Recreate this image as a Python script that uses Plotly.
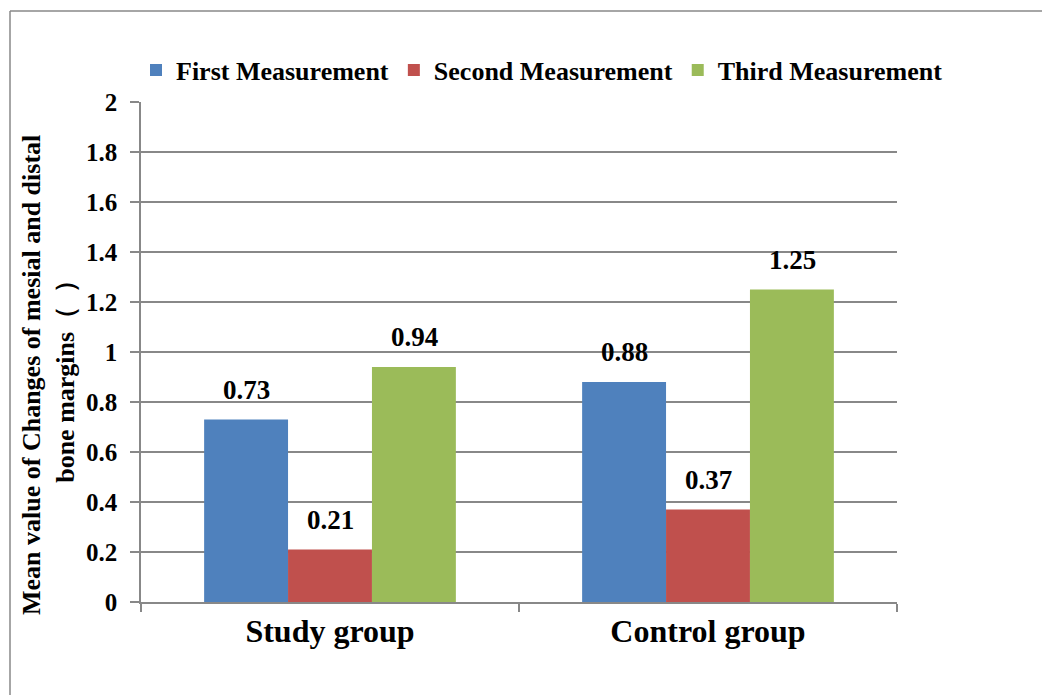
import plotly.graph_objects as go

categories = ["Study group", "Control group"]
series_names = ["First Measurement", "Second Measurement", "Third Measurement"]
first_vals = [0.73, 0.88]
second_vals = [0.21, 0.37]
third_vals = [0.94, 1.25]
colors = ["#4F81BD", "#C0504D", "#9BBB59"]
y_ticks = [0, 0.2, 0.4, 0.6, 0.8, 1, 1.2, 1.4, 1.6, 1.8, 2]
y_tick_labels = ["0", "0.2", "0.4", "0.6", "0.8", "1", "1.2", "1.4", "1.6", "1.8", "2"]
y_title = "Mean value of Changes of mesial and distal<br>bone margins（  ）"

FONT = "Liberation Serif, Times New Roman, serif"
all_vals = [first_vals, second_vals, third_vals]

fig = go.Figure()
for name, vals, col in zip(series_names, all_vals, colors):
    fig.add_trace(go.Bar(
        name=f"<b>{name}</b>", x=categories, y=vals,
        marker=dict(color=col, line=dict(width=0)),
    ))

bar_px = 84
for i, vals in enumerate(all_vals):
    for c, v in zip(categories, vals):
        fig.add_annotation(
            x=c, y=v, xref="x", yref="y",
            text=f"<b>{v:.2f}</b>", showarrow=False,
            xanchor="center", yanchor="bottom",
            xshift=(i - 1) * bar_px, yshift=13,
            font=dict(family=FONT, size=27, color="black"),
        )

# plot area (in figure coords): x 133..889, y 94..594
L, T, PW, PH = 133, 94, 756, 500
fx = lambda px: (px - L) / PW
fy = lambda py: (T + PH - py) / PH

# y-axis title as rotated annotation
fig.add_annotation(
    x=fx(40), y=fy(367), xref="paper", yref="paper",
    text=f"<b>{y_title}</b>", showarrow=False, textangle=-90,
    xanchor="center", yanchor="middle",
    font=dict(family=FONT, size=26, color="black"),
)

fig.add_shape(type="line", xref="paper", yref="paper",
              x0=fx(2), x1=fx(1060), y0=fy(3), y1=fy(3),
              line=dict(color="#888888", width=1.5))
fig.add_shape(type="line", xref="paper", yref="paper",
              x0=fx(2), x1=fx(2), y0=fy(3), y1=fy(700),
              line=dict(color="#888888", width=1.5))

fig.update_layout(
    width=1050, height=695,
    margin=dict(l=L, r=1050 - L - PW, t=T, b=695 - T - PH),
    paper_bgcolor="white", plot_bgcolor="white",
    barmode="group", bargap=0.334, bargroupgap=0,
    font=dict(family=FONT, color="black"),
    showlegend=True,
    legend=dict(
        orientation="h", x=fx(128), xanchor="left", y=fy(62), yanchor="middle",
        font=dict(family=FONT, size=26, color="black"),
        itemwidth=30, tracegroupgap=0,
    ),
    xaxis=dict(
        showline=True, linecolor="#888888", linewidth=1.5,
        ticks="outside", tickson="boundaries", ticklen=8, tickcolor="#888888", tickwidth=1.5,
        tickfont=dict(family=FONT, size=32, color="black"),
        tickprefix="<b>", ticksuffix="</b>",
    ),
    yaxis=dict(
        range=[0, 2], tickvals=y_ticks, ticktext=[f"<b>{t}</b>" for t in y_tick_labels],
        showline=True, linecolor="#888888", linewidth=1.5,
        showgrid=True, gridcolor="#888888", gridwidth=1.5,
        ticks="outside", ticklen=9, tickcolor="#888888", tickwidth=1.5,
        ticklabelstandoff=8,
        tickfont=dict(family=FONT, size=25, color="black"),
        zeroline=False,
    ),
)

fig.write_html("out.html")
